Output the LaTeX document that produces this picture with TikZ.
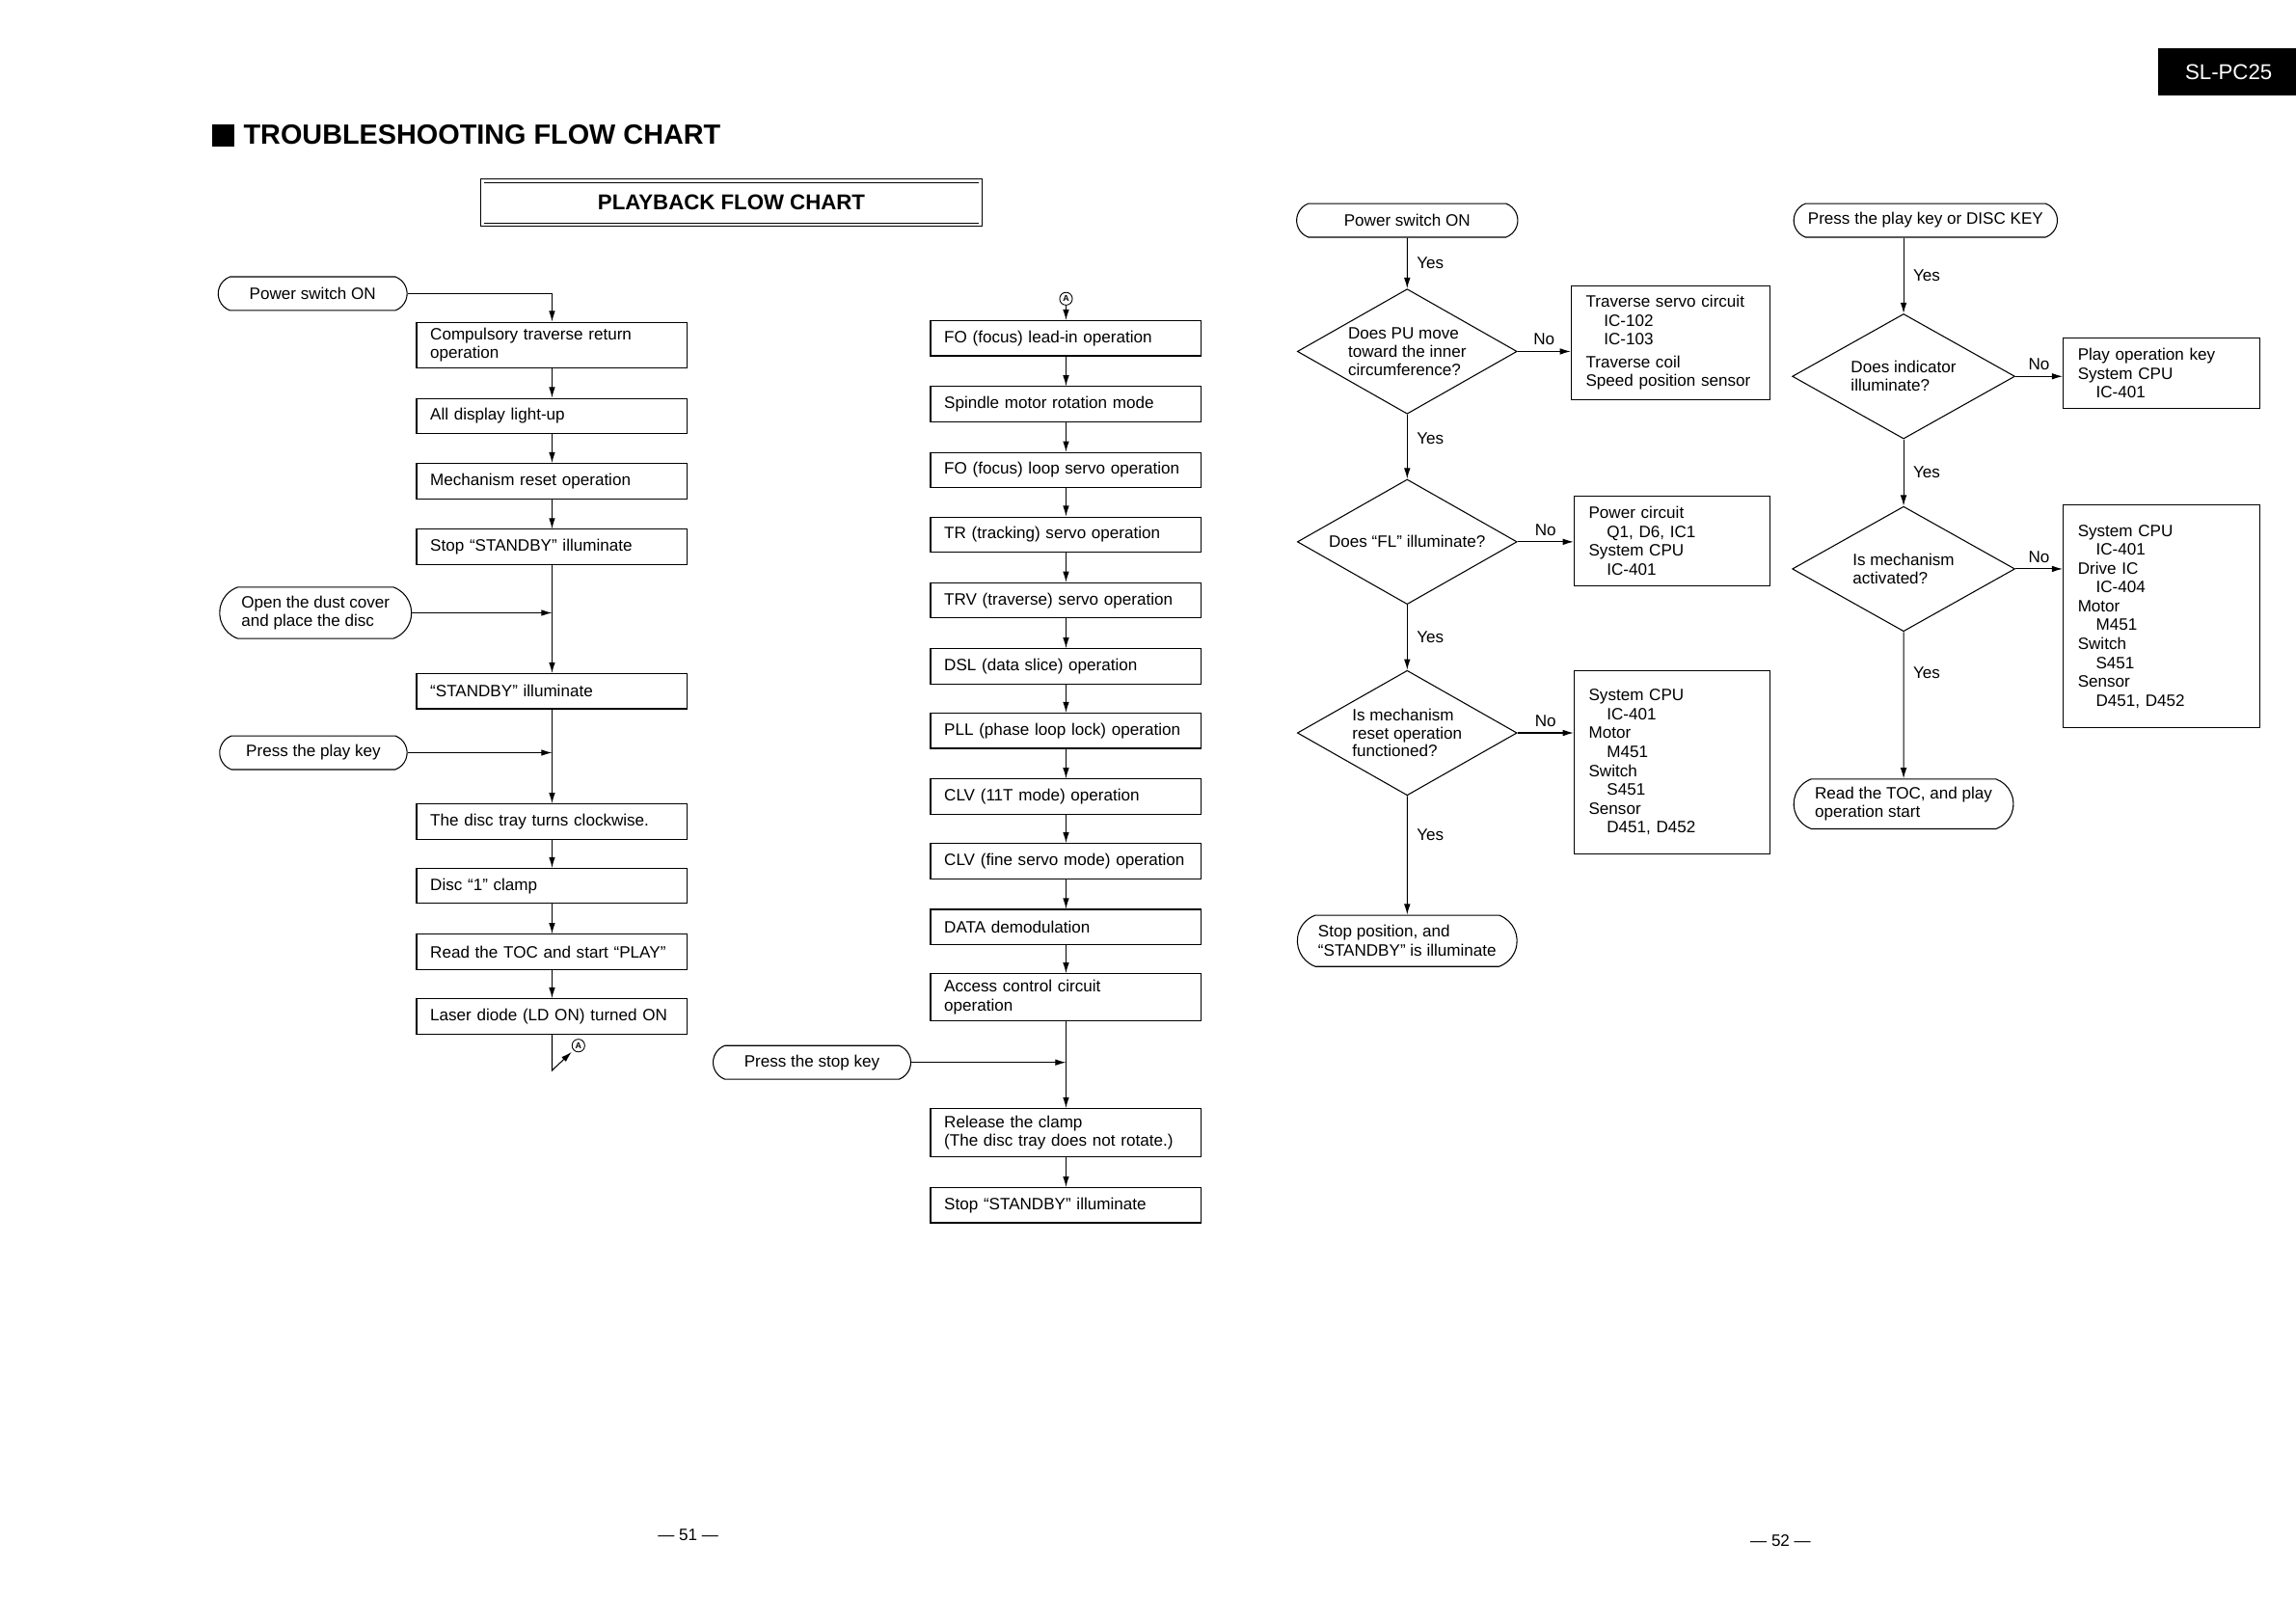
\documentclass[tikz,border=0pt]{standalone}
\usepackage{fontspec}
\setmainfont{Liberation Sans}
\usetikzlibrary{arrows.meta,shapes.geometric,shapes.misc}
\newcommand{\ind}{\hspace*{1.1em}}

\begin{document}
\begin{tikzpicture}[x=0.03cm,y=-0.03cm,>={Latex[length=2.2mm,width=1.3mm]},
  line width=0.6pt,font=\fontsize{9.6}{11}\selectfont,
  box/.style={draw,minimum height=0.72cm,text width=4.99cm,inner xsep=0.28cm,inner ysep=0pt,align=left},
  term/.style={draw,rounded rectangle,rounded rectangle arc length=140,minimum height=0.69cm,inner sep=0pt,align=left},
  ask/.style={draw,diamond,aspect=1.75,minimum width=4.5cm,minimum height=2.56cm,inner sep=0pt,align=left,font=\fontsize{9.6}{10.6}\selectfont},
  part/.style={draw,inner xsep=0.3cm,inner ysep=0pt,align=left},
  conn/.style={draw,circle,inner sep=0pt,minimum size=0.26cm,line width=0.5pt,font=\bfseries\fontsize{5}{5}\selectfont}]
  \useasboundingbox (0,0) rectangle (1568,1108);

  \fill (145,85) rectangle (160,100);
  \node[anchor=west,inner sep=0pt,font=\bfseries\fontsize{16.2}{19}\selectfont] (title) at (166,92) {TROUBLESHOOTING FLOW CHART};
  \node[draw,double,double distance=1.4pt,line width=0.5pt,minimum width=10.2cm,minimum height=0.9cm,font=\bfseries\fontsize{12.5}{15}\selectfont] (pbtitle) at (499.5,138.5) {PLAYBACK FLOW CHART};
  \fill (1474,33) rectangle (1568,65);
  \node[white,font=\fontsize{12.5}{15}\selectfont] (model) at (1522,49) {SL-PC25};
  \node (pg51) at (470,1048) {— 51 —};
  \node (pg52) at (1216,1052) {— 52 —};

  % playback, first half
  \node[term,minimum width=3.87cm] (pwrL) at (213.5,200.5) {Power switch ON};
  \node[box,minimum height=0.93cm] (lb1) at (377,235.5) {Compulsory traverse return\\operation};
  \node[box] (lb2) at (377,284) {All display light-up};
  \node[box] (lb3) at (377,328.5) {Mechanism reset operation};
  \node[box] (lb4) at (377,373.5) {Stop “STANDBY” illuminate};
  \node[term,minimum width=3.93cm,minimum height=1.05cm] (dust) at (215.5,418.5) {Open the dust cover\\and place the disc};
  \node[box] (lb5) at (377,472) {“STANDBY” illuminate};
  \node[term,minimum width=3.84cm] (playL) at (214,514) {Press the play key};
  \node[box] (lb6) at (377,561) {The disc tray turns clockwise.};
  \node[box] (lb7) at (377,605) {Disc “1” clamp};
  \node[box] (lb8) at (377,650) {Read the TOC and start “PLAY”};
  \node[box] (lb9) at (377,694) {Laser diode (LD ON) turned ON};
  \node[conn] (cA1) at (395,714) {A};
  \coordinate (kink) at (377,731);

  \draw[->] (pwrL.east) -| (lb1.north);
  \foreach \a/\b in {lb1/lb2,lb2/lb3,lb3/lb4,lb4/lb5,lb5/lb6,lb6/lb7,lb7/lb8,lb8/lb9}
    \draw[->] (\a) -- (\b);
  \draw[->] (dust.east) -- (dust.east -| lb5.north);
  \draw[->] (playL.east) -- (playL.east -| lb6.north);
  \draw[->,shorten >=1.5pt] (lb9.south) -- (kink) -- (cA1);

  % playback, second half
  \node[conn] (cA2) at (728,204) {A};
  \node[box] (mb1) at (728,231) {FO (focus) lead-in operation};
  \node[box] (mb2) at (728,276) {Spindle motor rotation mode};
  \node[box] (mb3) at (728,321) {FO (focus) loop servo operation};
  \node[box] (mb4) at (728,365) {TR (tracking) servo operation};
  \node[box] (mb5) at (728,410) {TRV (traverse) servo operation};
  \node[box] (mb6) at (728,455) {DSL (data slice) operation};
  \node[box] (mb7) at (728,499) {PLL (phase loop lock) operation};
  \node[box] (mb8) at (728,544) {CLV (11T mode) operation};
  \node[box] (mb9) at (728,588) {CLV (fine servo mode) operation};
  \node[box] (mb10) at (728,633) {DATA demodulation};
  \node[box,minimum height=0.96cm] (mb11) at (728,681) {Access control circuit\\operation};
  \node[term,minimum width=4.05cm] (stopkey) at (554.5,725.5) {Press the stop key};
  \node[box,minimum height=0.99cm] (mb12) at (728,773.5) {Release the clamp\\(The disc tray does not rotate.)};
  \node[box] (mb13) at (728,823) {Stop “STANDBY” illuminate};

  \draw[->] (cA2) -- (mb1);
  \foreach \i [evaluate=\i as \j using int(\i+1)] in {1,...,12}
    \draw[->] (mb\i) -- (mb\j);
  \draw[->] (stopkey.east) -- (stopkey.east -| mb12.north);

  % power on check
  \node[term,minimum width=4.53cm] (pwrR) at (961,150.5) {Power switch ON};
  \node[ask] (d1) at (961,240) {Does PU move\\toward the inner\\circumference?};
  \node[part,text width=3.48cm,minimum height=2.34cm] (pA) at (1141,234) {Traverse servo circuit\\\ind IC-102\\\ind IC-103\\[2pt]Traverse coil\\Speed position sensor};
  \node[ask] (d2) at (961,370) {Does “FL” illuminate?};
  \node[part,text width=3.42cm,minimum height=1.83cm] (pB) at (1142,369.5) {Power circuit\\\ind Q1, D6, IC1\\System CPU\\\ind IC-401};
  \node[ask] (d3) at (961,500.5) {Is mechanism\\reset operation\\functioned?};
  \node[part,text width=3.42cm,minimum height=3.75cm] (pC) at (1142,520.5) {System CPU\\\ind IC-401\\Motor\\\ind M451\\Switch\\\ind S451\\Sensor\\\ind D451, D452};
  \node[term,minimum width=4.5cm,minimum height=1.05cm] (stopR) at (961,642.5) {Stop position, and\\“STANDBY” is illuminate};

  \draw[->] (pwrR) -- node[right,xshift=2pt]{Yes} (d1);
  \draw[->] (d1) -- node[pos=.38,right,xshift=2pt]{Yes} (d2);
  \draw[->] (d2) -- node[right,xshift=2pt]{Yes} (d3);
  \draw[->] (d3) -- node[pos=.33,right,xshift=2pt]{Yes} (stopR);
  \draw[->] (d1.east) -- node[above]{No} (d1.east -| pA.west);
  \draw[->] (d2.east) -- node[above]{No} (d2.east -| pB.west);
  \draw[->] (d3.east) -- node[above]{No} (d3.east -| pC.west);

  % play key check
  \node[term,minimum width=5.4cm] (playR) at (1315,150.5) {Press the play key or DISC KEY};
  \node[ask,minimum width=4.56cm] (d4) at (1300,257) {Does indicator\\illuminate?};
  \node[part,text width=3.42cm,minimum height=1.44cm] (pD) at (1476,255) {Play operation key\\System CPU\\\ind IC-401};
  \node[ask,minimum width=4.56cm] (d5) at (1300,388.5) {Is mechanism\\activated?};
  \node[part,text width=3.42cm,minimum height=4.56cm] (pE) at (1476,421) {System CPU\\\ind IC-401\\Drive IC\\\ind IC-404\\Motor\\\ind M451\\Switch\\\ind S451\\Sensor\\\ind D451, D452};
  \node[term,minimum width=4.5cm,minimum height=1.02cm] (toc) at (1300,549) {Read the TOC, and play\\operation start};

  \draw[->] (d4.north |- playR.south) -- node[right,xshift=2pt]{Yes} (d4.north);
  \draw[->] (d4) -- node[right,xshift=2pt]{Yes} (d5);
  \draw[->] (d5) -- node[pos=.28,right,xshift=2pt]{Yes} (toc);
  \draw[->] (d4.east) -- node[above]{No} (d4.east -| pD.west);
  \draw[->] (d5.east) -- node[above]{No} (d5.east -| pE.west);
\end{tikzpicture}
\end{document}
